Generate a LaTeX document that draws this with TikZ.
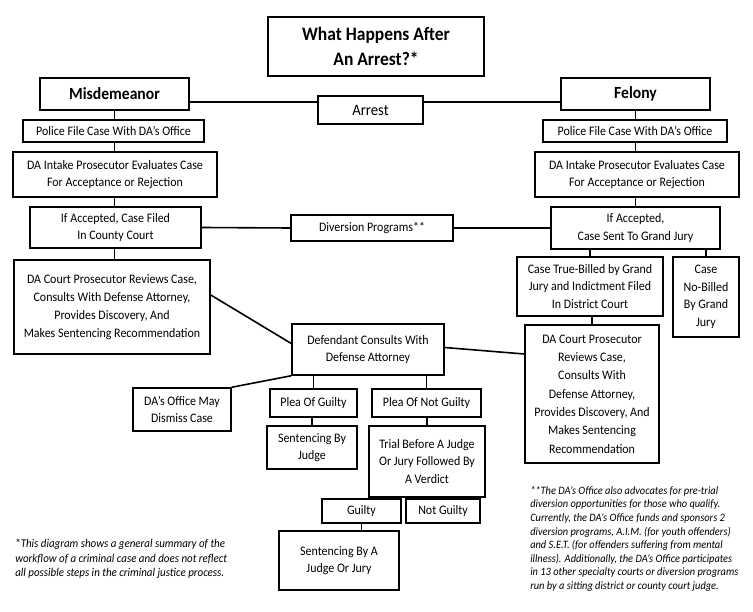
\documentclass[tikz,border=0pt]{standalone}
\usepackage{fontspec}
\setmainfont{Carlito}[FakeStretch=0.92]
\usepackage{tikz}
\usetikzlibrary{arrows,positioning}

\begin{document}
\begin{tikzpicture}[x=1pt,y=-1pt,line width=1.4pt,semithick]
\tikzstyle{box}=[draw=black,line width=1.5pt,fill=white,inner sep=0pt,align=center,font=\fontsize{13}{17.5}\selectfont]
\tikzstyle{boldbox}=[box,line width=2.4pt,font=\fontsize{19}{25}\selectfont\bfseries]
\tikzstyle{note}=[inner sep=0pt,anchor=north west,align=left]
\tikzstyle{wire}=[draw=black,line width=1.6pt]
\useasboundingbox (0,0) rectangle (753,612);
\node[boldbox,minimum width=216pt,minimum height=59pt] (Title) at (376,46.5) {What Happens After\\An Arrest?*};
\node[boldbox,minimum width=149pt,minimum height=32pt,font=\fontsize{17}{18}\selectfont\bfseries] (Misd) at (114.5,94) {Misdemeanor};
\node[boldbox,minimum width=149pt,minimum height=32pt,font=\fontsize{17}{18}\selectfont\bfseries] (Felony) at (635.5,94) {Felony};
\node[box,minimum width=105pt,minimum height=28pt,font=\fontsize{16}{18}\selectfont] (Arrest) at (370.5,110) {Arrest};
\coordinate (ArrRow) at (0,102);
\node[box,minimum width=181pt,minimum height=22pt] (PoliceL) at (113.5,131) {Police File Case With DA’s Office};
\node[box,minimum width=184pt,minimum height=22pt] (PoliceR) at (635,131) {Police File Case With DA’s Office};
\node[box,minimum width=204pt,minimum height=45pt] (IntakeL) at (115,174.5) {DA Intake Prosecutor Evaluates Case\\For Acceptance or Rejection};
\node[box,minimum width=204pt,minimum height=45pt] (IntakeR) at (637,174.5) {DA Intake Prosecutor Evaluates Case\\For Acceptance or Rejection};
\node[box,minimum width=171pt,minimum height=41pt] (AccL) at (115.5,227.5) {If Accepted, Case Filed\\In County Court};
\node[box,line width=2.2pt,minimum width=169pt,minimum height=42pt] (AccR) at (635.5,228) {If Accepted,\\Case Sent To Grand Jury};
\node[box,minimum width=162pt,minimum height=26pt] (Div) at (372,228) {Diversion Programs**};
\node[box,minimum width=196pt,minimum height=94pt,font=\fontsize{13}{18}\selectfont] (CourtL) at (112,307) {DA Court Prosecutor Reviews Case,\\Consults With Defense Attorney,\\Provides Discovery, And\\Makes Sentencing Recommendation};
\node[box,minimum width=146pt,minimum height=59pt] (TrueB) at (590,286.5) {Case True-Billed by Grand\\Jury and Indictment Filed\\In District Court};
\node[box,minimum width=66pt,minimum height=80pt] (NoB) at (706,297) {Case\\No-Billed\\By Grand\\Jury};
\node[box,minimum width=134pt,minimum height=138pt,font=\fontsize{13}{18.3}\selectfont] (CourtR) at (592,394) {DA Court Prosecutor\\Reviews Case,\\Consults With\\Defense Attorney,\\Provides Discovery, And\\Makes Sentencing\\Recommendation};
\node[box,minimum width=152pt,minimum height=51pt] (Def) at (368,349.5) {Defendant Consults With\\Defense Attorney};
\node[box,minimum width=98pt,minimum height=43pt] (Dismiss) at (182,409.5) {DA’s Office May\\Dismiss Case};
\node[box,minimum width=87pt,minimum height=28pt] (PleaG) at (313.5,403) {Plea Of Guilty};
\node[box,minimum width=109pt,minimum height=28pt] (PleaNG) at (426.5,403) {Plea Of Not Guilty};
\node[box,minimum width=90pt,minimum height=43pt] (SentJ) at (312,447.5) {Sentencing By\\Judge};
\node[box,minimum width=116pt,minimum height=71pt] (Trial) at (427,461.5) {Trial Before A Judge\\Or Jury Followed By\\A Verdict};
\node[box,minimum width=79pt,minimum height=24pt] (Guilty) at (361.5,511) {Guilty};
\node[box,minimum width=74pt,minimum height=24pt] (NotG) at (443,511) {Not Guilty};
\node[box,minimum width=120pt,minimum height=59pt] (SentA) at (339,560.5) {Sentencing By A\\Judge Or Jury};
\node[note,font=\fontsize{11.9}{14.5}\selectfont\itshape] (NoteL) at (15,539) {{\upshape *}This diagram shows a general summary of the\\workflow of a criminal case and does not reflect\\all possible steps in the criminal justice process.};
\node[note,font=\fontsize{11.3}{13.6}\selectfont\itshape] (NoteR) at (530,486) {**The DA’s Office also advocates for pre-trial\\diversion opportunities for those who qualify.\\Currently, the DA’s Office funds and sponsors 2\\diversion programs, A.I.M. (for youth offenders)\\and S.E.T. (for offenders suffering from mental\\illness). Additionally, the DA’s Office participates\\in 13 other specialty courts or diversion programs\\run by a sitting district or county court judge.};
\draw[wire] (Misd.east |- ArrRow) -- (Arrest.west |- ArrRow);
\draw[wire] (Arrest.east |- ArrRow) -- (Felony.west |- ArrRow);
\draw[wire] (Misd.south) -- (Misd.south |- PoliceL.north);
\draw[wire] (PoliceL.south -| Misd.south) -- (Misd.south |- IntakeL.north);
\draw[wire] (IntakeL.south -| Misd.south) -- (Misd.south |- AccL.north);
\draw[wire] (AccL.south -| Misd.south) -- (Misd.south |- CourtL.north);
\draw[wire] (Felony.south) -- (Felony.south |- PoliceR.north);
\draw[wire] (PoliceR.south -| Felony.south) -- (Felony.south |- IntakeR.north);
\draw[wire] (IntakeR.south -| Felony.south) -- (Felony.south |- AccR.north);
\draw[wire] (AccL.east) -- (Div.west);
\draw[wire] (Div.east) -- (AccR.west);
\draw[wire] (TrueB.north) -- (TrueB.north |- AccR.south);
\draw[wire] (NoB.north) -- (NoB.north |- AccR.south);
\draw[wire] (TrueB.south -| CourtR.north) -- (CourtR.north);
\draw[wire] ([yshift=12pt]CourtL.east) -- ([yshift=6pt]Def.west);
\draw[wire] ([yshift=2pt]Def.east) -- ([yshift=40pt]CourtR.west);
\draw[wire] (Def.south west) -- (Dismiss.north east);
\draw[wire] (PleaG.north) -- (PleaG.north |- Def.south);
\draw[wire] (PleaNG.north) -- (PleaNG.north |- Def.south);
\draw[wire] (SentJ.north) -- (SentJ.north |- PleaG.south);
\draw[wire] (Trial.north) -- (Trial.north |- PleaNG.south);
\draw[wire] ([xshift=-45pt]Trial.south) -- ([xshift=-45pt]Trial.south |- Guilty.north);
\draw[wire] (NotG.north) -- (NotG.north |- Trial.south);
\draw[wire] (Guilty.south) -- (Guilty.south |- SentA.north);
\end{tikzpicture}
\end{document}
